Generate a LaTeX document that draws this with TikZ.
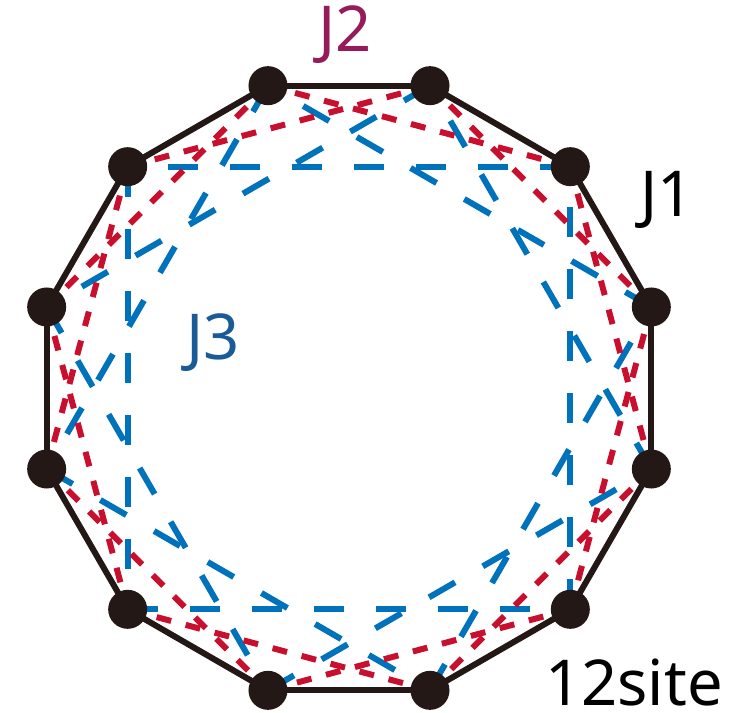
\documentclass[tikz,border=0pt]{standalone}
\usepackage{fontspec}
\setmainfont{Noto Sans}
\usetikzlibrary{backgrounds}
\definecolor{siteblack}{HTML}{231815}
\definecolor{jtwored}{HTML}{C8102E}
\definecolor{jthreeblue}{HTML}{0072BC}
\definecolor{jtwolabel}{HTML}{951B5A}
\definecolor{jthreelabel}{HTML}{1A5A96}

\begin{document}
\begin{tikzpicture}[
    site/.style={circle, fill=siteblack, inner sep=0pt, minimum size=0.78cm},
    jone/.style={draw=siteblack, line width=0.12cm},
    jtwo/.style={draw=jtwored, line width=0.12cm,
      dash pattern=on 0.3cm off 0.3cm},
    jthree/.style={draw=jthreeblue, line width=0.12cm,
      dash pattern=on 0.6cm off 0.64cm},
    lbl/.style={font=\fontsize{36}{40}\selectfont, inner sep=0pt},
  ]
  \useasboundingbox (-6.98,-6.5) rectangle (7.94,7.76);

  % --- sites on the ring ---
  \foreach \i in {0,...,11}
    \node[site] (s\i) at ({15+30*\i}:6.26) {};

  % --- bonds, kept behind the sites ---
  \begin{pgfonlayer}{background}
    \foreach \i in {0,...,11}{
      \pgfmathtruncatemacro{\k}{mod(\i+3,12)}
      \draw[jthree] (s\i.center) -- (s\k.center);
    }
    \foreach \i in {0,...,11}{
      \pgfmathtruncatemacro{\k}{mod(\i+2,12)}
      \draw[jtwo] (s\i.center) -- (s\k.center);
    }
    \foreach \i in {0,...,11}{
      \pgfmathtruncatemacro{\k}{mod(\i+1,12)}
      \draw[jone] (s\i.center) -- (s\k.center);
    }
  \end{pgfonlayer}

  % --- labels ---
  \node[lbl, text=jtwolabel] (ltwo) at (-0.08,7.06) {J2};
  \node[lbl] (lone) at (6.36,3.76) {J1};
  \node[lbl, text=jthreelabel] (lthree) at (-2.72,0.9) {J3};
  \node[lbl, anchor=base] (lsite) at (5.70,-6.34) {12site};
\end{tikzpicture}
\end{document}
